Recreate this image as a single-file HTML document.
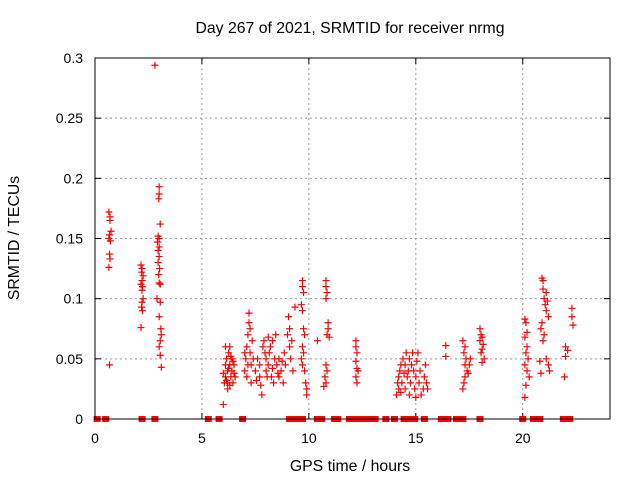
<!DOCTYPE html>
<html><head><meta charset="utf-8"><style>
body{margin:0;background:#fff}
svg{display:block;font-family:"Liberation Sans",sans-serif}
</style></head><body>
<svg id="chart" width="640" height="480">
<text x="350" y="33" font-size="15.8" text-anchor="middle">Day 267 of 2021, SRMTID for receiver nrmg</text>
<text x="350" y="471" font-size="15.8" text-anchor="middle">GPS time / hours</text>
<text x="19" y="238" font-size="15.8" text-anchor="middle" transform="rotate(-90 19 238)">SRMTID / TECUs</text>
<g id="grid"></g>
<g id="ticks"></g>
<g id="points"></g>
<g id="zeros"></g>
<rect x="95" y="58" width="515" height="361" fill="none" stroke="#000"/>
</svg>
<script>
const xTicks=[0,5,10,15,20];
const yTicks=[0,0.05,0.1,0.15,0.2,0.25,0.3];
const yTickLabels=["0","0.05","0.1","0.15","0.2","0.25","0.3"];
const times=[0.65,0.7,0.7,0.75,0.68,0.65,0.72,0.68,0.7,0.65,0.68,
2.15,2.2,2.18,2.25,2.2,2.15,2.22,2.2,2.25,2.2,2.18,2.22,2.15,
2.8,3.0,3.0,2.98,3.05,2.95,3.0,2.92,3.0,2.95,3.0,2.95,3.02,2.98,3.0,3.05,2.9,3.05,3.0,3.08,3.1,3.05,3.0,3.05,3.1,
6.0,6.05,6.1,6.1,6.15,6.2,6.2,6.25,6.3,6.3,6.35,6.4,6.4,6.45,6.5,6.5,6.55,6.2,6.3,6.1,6.25,6.35,6.45,6.15,6.0,
7.0,7.05,7.1,7.1,7.15,7.2,7.2,7.25,7.25,7.3,7.3,7.35,7.4,7.5,7.55,7.6,7.7,7.7,7.75,7.8,7.85,7.9,7.95,8.0,8.0,8.05,8.1,8.15,8.2,8.25,8.3,8.35,8.4,8.45,8.5,8.55,8.6,8.7,8.75,8.8,8.85,8.9,9.0,9.05,9.1,9.1,9.15,9.2,9.25,7.0,7.15,8.3,8.1,8.6,
9.7,9.7,9.75,9.65,9.7,9.75,9.8,9.7,9.65,9.7,9.8,9.85,9.9,9.9,9.35,9.75,
10.4,10.8,10.8,10.85,10.8,10.9,10.9,10.85,10.95,10.8,10.75,10.8,10.7,10.85,
12.2,12.2,12.25,12.2,12.25,12.3,12.2,12.25,
14.1,14.15,14.2,14.2,14.25,14.3,14.35,14.4,14.45,14.5,14.5,14.55,14.6,14.65,14.7,14.75,14.8,14.85,14.9,14.95,15.0,15.05,15.1,15.15,15.2,15.25,15.35,15.4,15.45,15.5,15.55,14.3,14.7,15.0,
16.4,16.4,
17.2,17.3,17.25,17.35,17.3,17.4,17.3,17.25,17.2,17.45,17.5,17.55,
18.0,18.05,18.1,18.0,18.15,18.1,18.05,18.2,18.1,
20.1,20.15,20.2,20.1,20.2,20.15,20.25,20.1,20.2,20.3,20.15,20.1,
20.9,20.95,20.95,21.1,21.0,21.15,21.05,21.1,21.2,20.9,20.85,21.0,20.95,21.1,20.8,21.2,21.25,20.85,
22.3,22.3,22.35,22.0,22.1,22.0,21.95];
const values=[0.172,0.168,0.165,0.156,0.153,0.150,0.148,0.137,0.133,0.126,0.045,
0.128,0.125,0.122,0.119,0.115,0.112,0.11,0.107,0.10,0.097,0.093,0.09,0.076,
0.294,0.193,0.187,0.183,0.162,0.152,0.15,0.147,0.143,0.14,0.135,0.13,0.125,0.12,0.113,0.112,0.1,0.097,0.085,0.075,0.07,0.065,0.06,0.053,0.043,
0.012,0.03,0.035,0.045,0.05,0.04,0.03,0.055,0.06,0.045,0.035,0.04,0.05,0.03,0.045,0.038,0.035,0.025,0.028,0.06,0.042,0.052,0.048,0.032,0.038,
0.04,0.05,0.035,0.06,0.07,0.088,0.08,0.075,0.055,0.045,0.03,0.065,0.05,0.04,0.032,0.05,0.045,0.035,0.028,0.02,0.06,0.065,0.055,0.05,0.04,0.035,0.045,0.055,0.06,0.035,0.042,0.03,0.05,0.07,0.045,0.038,0.035,0.04,0.048,0.03,0.055,0.045,0.07,0.085,0.075,0.06,0.05,0.065,0.04,0.055,0.045,0.065,0.068,0.05,
0.115,0.11,0.105,0.095,0.09,0.075,0.07,0.06,0.05,0.045,0.04,0.03,0.025,0.02,0.093,0.055,
0.065,0.115,0.11,0.105,0.1,0.08,0.075,0.07,0.068,0.045,0.035,0.03,0.027,0.04,
0.065,0.06,0.055,0.048,0.042,0.04,0.035,0.03,
0.02,0.03,0.035,0.025,0.04,0.045,0.03,0.05,0.038,0.025,0.045,0.055,0.035,0.04,0.05,0.03,0.045,0.055,0.04,0.025,0.035,0.048,0.055,0.03,0.04,0.02,0.025,0.035,0.045,0.03,0.025,0.022,0.02,0.018,
0.061,0.052,
0.065,0.06,0.055,0.05,0.045,0.04,0.035,0.03,0.025,0.038,0.045,0.05,
0.075,0.07,0.068,0.065,0.062,0.058,0.055,0.05,0.047,
0.083,0.08,0.072,0.068,0.06,0.055,0.05,0.045,0.04,0.035,0.028,0.018,
0.117,0.115,0.108,0.105,0.1,0.098,0.095,0.09,0.085,0.08,0.075,0.07,0.065,0.05,0.048,0.045,0.04,0.038,
0.092,0.085,0.078,0.06,0.057,0.052,0.035];
const zeroTimes=[0.1,0.5,2.2,2.8,5.3,5.8,6.9,9.1,9.4,9.7,10.4,10.6,11.2,11.35,11.9,12.2,12.5,12.8,13.1,13.6,14.0,14.45,14.7,14.95,15.4,16.2,16.5,16.9,17.2,18.0,20.0,20.5,20.8,21.9,22.2];
const X=h=>95+h*(515/24.08);
const Y=v=>419-v*(361/0.3);
const ns="http://www.w3.org/2000/svg";
function mk(tag,attrs,parent){const e=document.createElementNS(ns,tag);for(const k in attrs)e.setAttribute(k,attrs[k]);parent.appendChild(e);return e;}
const grid=document.getElementById('grid'),ticks=document.getElementById('ticks');
xTicks.forEach(t=>{const x=X(t);
 if(t>0){const g=mk('line',{x1:x,x2:x,y1:58,y2:419,stroke:'#999','stroke-dasharray':'2,3'},grid);
 
 }
 mk('line',{x1:x,x2:x,y1:419,y2:413,stroke:'#000'},ticks);mk('line',{x1:x,x2:x,y1:58,y2:64,stroke:'#000'},ticks);
 const l=mk('text',{x:x,y:443,'font-size':14,'text-anchor':'middle'},ticks);l.textContent=t;
 
 });
yTicks.forEach((t,i)=>{const y=Y(t);
 if(t>0&&t<0.3){const g=mk('line',{x1:95,x2:610,y1:y,y2:y,stroke:'#999','stroke-dasharray':'2,3'},grid);
 
 }
 mk('line',{x1:95,x2:101,y1:y,y2:y,stroke:'#000'},ticks);mk('line',{x1:604,x2:610,y1:y,y2:y,stroke:'#000'},ticks);
 const l=mk('text',{x:83,y:y+5,'font-size':14,'text-anchor':'end'},ticks);l.textContent=yTickLabels[i];
 
 });
const pts=document.getElementById('points');
times.forEach((t,i)=>{const x=X(t),y=Y(values[i]);
 const p=mk('path',{d:`M${x-3.5},${y}H${x+3.5}M${x},${y-3.5}V${y+3.5}`,stroke:'#f00','stroke-width':1.2,fill:'none'},pts);
 
 });
const zs=document.getElementById('zeros');
zeroTimes.forEach(t=>{const r=mk('rect',{x:X(t)-3.5,y:416,width:7,height:6,fill:'#f00'},zs);
 
 });
</script>
</body></html>
